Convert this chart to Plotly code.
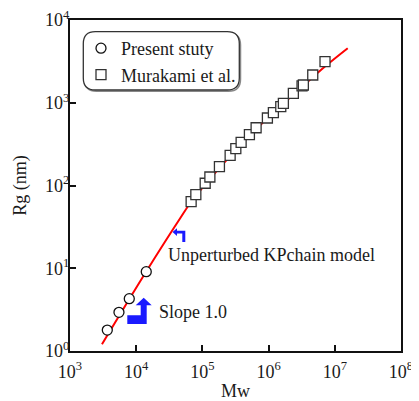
import plotly.graph_objects as go

# ---- data ----
present_mw = [3660, 5490, 7860, 14190]
present_rg = [1.79, 2.93, 4.29, 9.1]

murakami_mw = [67600, 79600, 110200, 129700, 180800, 262400, 319800, 384600,
               513000, 647700, 959000, 1181000, 1527000, 1672000, 2366000,
               3200000, 3350000, 4645000, 7115000]
murakami_rg = [63.7, 77.4, 106.4, 126.7, 168.7, 231.7, 278.4, 332.6,
               411, 499, 654, 759, 896, 985, 1300,
               1600, 1638, 2163, 3135]

kp_mw = [3040, 14030, 46170, 67600, 262400, 948000, 3311000, 7115000, 15670000]
kp_rg = [1.205, 9.01, 40.2, 63.2, 227, 645, 1593, 2735, 4550]

x_tick_vals = [1e3, 1e4, 1e5, 1e6, 1e7, 1e8]
x_tick_text = ["10<sup>3</sup>", "10<sup>4</sup>", "10<sup>5</sup>", "10<sup>6</sup>",
               "10<sup>7</sup>", "10<sup>8</sup>"]
y_tick_vals = [1, 10, 100, 1000, 10000]
y_tick_text = ["10<sup>0</sup>", "10<sup>1</sup>", "10<sup>2</sup>", "10<sup>3</sup>",
               "10<sup>4</sup>"]

x_range_log = [3, 8]
y_range_log = [0, 4]

FONT = "Liberation Serif, Times New Roman, serif"
TXT = "#1a1a1a"
FS = 18

# The page body has an 8px default margin, so the figure is drawn offset by 8px.
OFF = 8
# plot-area geometry in screen pixels
L, T, W, H = 70, 20, 331, 331
FIG_W, FIG_H = 419 - OFF, 401 - OFF
def px(x):
    return (x - L) / W
def py(y):
    return (T + H - y) / H

fig = go.Figure()

fig.add_trace(go.Scatter(
    x=kp_mw, y=kp_rg, mode="lines", line=dict(color="#ff0000", width=2, shape="spline"),
    showlegend=False, hoverinfo="skip"))

fig.add_trace(go.Scatter(
    x=murakami_mw, y=murakami_rg, mode="markers", name="Murakami et al.",
    marker=dict(symbol="square", size=10, color="white", line=dict(color="#333333", width=1.3)),
    legendrank=2, legendgroup="b"))

fig.add_trace(go.Scatter(
    x=present_mw, y=present_rg, mode="markers", name="Present stuty",
    marker=dict(symbol="circle", size=10, color="white", line=dict(color="#111111", width=1.3)),
    legendrank=1, legendgroup="a"))

# rounded legend frame
x0, x1 = px(83.3), px(239.3)
y0, y1 = py(90), py(31.7)
r = 12 / W
def rounded(x0, x1, y0, y1, r):
    return (f"M {x0+r},{y1} L {x1-r},{y1} Q {x1},{y1} {x1},{y1-r} "
            f"L {x1},{y0+r} Q {x1},{y0} {x1-r},{y0} L {x0+r},{y0} "
            f"Q {x0},{y0} {x0},{y0+r} L {x0},{y1-r} Q {x0},{y1} {x0+r},{y1} Z")

shapes = [
    dict(type="path", xref="paper", yref="paper",
         path=rounded(x0 + 1.2 / W, x1 + 1.2 / W, y0 - 1.2 / H, y1 - 1.2 / H, r),
         line=dict(color="#888888", width=1.5), layer="below"),
    dict(type="path", xref="paper", yref="paper", path=rounded(x0, x1, y0, y1, r),
         line=dict(color="#333333", width=1.3), fillcolor="white", layer="below"),
]

# blue arrows
a1 = [(172.5, 232), (177, 228.3), (177, 230.8), (185.3, 230.8), (185.3, 242),
      (182.3, 242), (182.3, 233.6), (177, 233.6), (177, 236)]
a2 = [(143.7, 297.7), (151.7, 305.3), (146.7, 305.3), (146.7, 324), (127.3, 324),
      (127.3, 315.3), (140.7, 315.3), (140.7, 305.3), (135.7, 305.3)]
for poly in (a1, a2):
    path = "M " + " L ".join(f"{px(a)},{py(b)}" for a, b in poly) + " Z"
    shapes.append(dict(type="path", xref="paper", yref="paper", path=path,
                       fillcolor="#1a1aff", line=dict(width=0)))

fig.update_layout(
    width=FIG_W, height=FIG_H,
    margin=dict(l=L - OFF, r=FIG_W - (L - OFF) - W, t=T - OFF, b=FIG_H - (T - OFF) - H,
                autoexpand=False),
    paper_bgcolor="white", plot_bgcolor="white",
    font=dict(family=FONT, size=FS, color=TXT),
    shapes=shapes,
    showlegend=True,
    legend=dict(x=px(81), y=py(30), xanchor="left", yanchor="top",
                bgcolor="rgba(0,0,0,0)", borderwidth=0,
                font=dict(family=FONT, size=FS, color=TXT),
                tracegroupgap=1, traceorder="normal"),
    annotations=[
        dict(text="Unperturbed KPchain model", xref="paper", yref="paper",
             x=px(166), y=py(255), xanchor="left", yanchor="middle", showarrow=False,
             font=dict(family=FONT, size=FS, color=TXT)),
        dict(text="Slope 1.0", xref="paper", yref="paper",
             x=px(157), y=py(311.7), xanchor="left", yanchor="middle", showarrow=False,
             font=dict(family=FONT, size=FS, color=TXT)),
    ],
)

axis_common = dict(type="log", showgrid=False, zeroline=False, showline=True,
                   linecolor="#111111", linewidth=2, mirror=True, ticks="inside",
                   ticklen=6, tickwidth=2, tickcolor="#111111", automargin=False,
                   ticklabeloverflow="allow",
                   tickfont=dict(family=FONT, size=FS, color=TXT))
fig.update_xaxes(range=x_range_log, tickvals=x_tick_vals, ticktext=x_tick_text,
                 ticklabelstandoff=3,
                 title=dict(text="Mw", font=dict(family=FONT, size=FS, color=TXT), standoff=15),
                 **axis_common)
fig.update_yaxes(range=y_range_log, tickvals=y_tick_vals, ticktext=y_tick_text,
                 ticklabelstandoff=-5,
                 title=dict(text="Rg (nm)", font=dict(family=FONT, size=FS, color=TXT), standoff=14),
                 **axis_common)

fig.write_html("out.html")
